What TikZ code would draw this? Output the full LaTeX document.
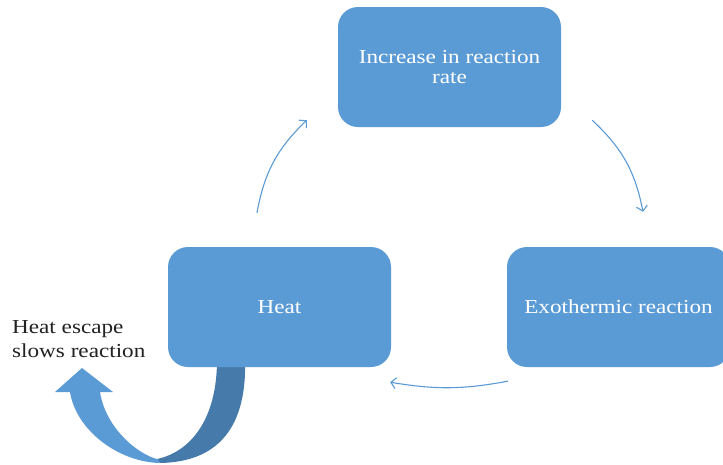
\documentclass[tikz,border=0pt]{standalone}
\usepackage{fontspec}
\setmainfont{Liberation Serif}[FakeStretch=1.17]
\usetikzlibrary{arrows.meta}
\definecolor{boxblue}{HTML}{5B9BD5}
\definecolor{bandblue}{HTML}{467AAB}
\definecolor{txtdark}{HTML}{222222}
\tikzset{
  stage/.style={rectangle, rounded corners=20pt, fill=boxblue,
    minimum width=223pt, minimum height=120pt, text=white,
    align=center, font=\fontsize{19.8pt}{19.5pt}\selectfont},
  cyclearrow/.style={draw=boxblue, line width=1.1pt,
    -{Straight Barb[length=5pt,width=11pt]}},
}
\begin{document}
\begin{tikzpicture}[x=1pt, y=-1pt]
\clip (0,0) rectangle (723,464);
\fill[white] (0,0) rectangle (723,464);

% curved escape arrow below the heat box
\fill[bandblue] (245,360) .. controls (247,425) and (220,462) .. (160,463)
  -- (157,459) .. controls (190,452) and (217,420) .. (217,360) -- cycle;
\fill[boxblue] (70,392) -- (55,392) -- (82,368) -- (113,392) -- (100,392)
  .. controls (106,430) and (140,455) .. (157,459) -- (160,463)
  .. controls (118,462) and (76,430) .. (70,392) -- cycle;

% stages of the cycle
\node[stage] (top) at (449.5,67) {Increase in reaction\\rate};
\node[stage] (heat) at (279.5,307) {Heat};
\node[stage] (exo) at (618.5,307) {Exothermic reaction};

% label of the escape arrow
\node[anchor=west, inner sep=0pt, align=left, text=txtdark,
  font=\fontsize{19.8pt}{24pt}\selectfont] (esc) at (12,339)
  {Heat escape\\slows reaction};

% cycle connectors
\draw[cyclearrow] ([shift={(-22.5,-34)}]heat.north)
  to[bend left=18] ([shift={(-31,-7)}]top.south west);
\draw[cyclearrow] ([shift={(31,-7)}]top.south east)
  to[bend left=18] ([shift={(24.5,-35)}]exo.north);
\draw[cyclearrow] ([shift={(1,14)}]exo.south west)
  to[bend left=10] ([shift={(-1,15)}]heat.south east);
\end{tikzpicture}
\end{document}
